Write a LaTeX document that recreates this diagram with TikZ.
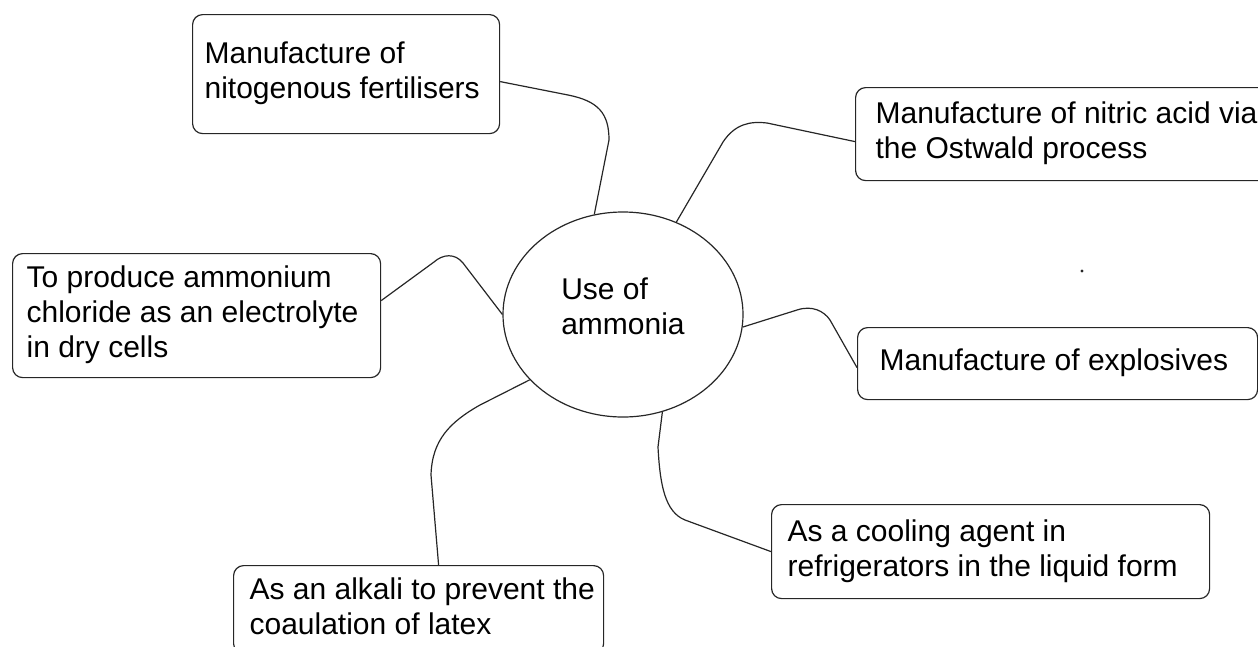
\documentclass[tikz,border=0pt]{standalone}
\usepackage{fontspec}
\setmainfont{Liberation Sans}
\usetikzlibrary{shapes.geometric}
\newcommand\boxtext[3]{\makebox[#1pt][l]{\hspace*{#2pt}\begin{tabular}{@{}l@{}}#3\end{tabular}}}
\tikzset{
  stroke/.style={draw=black!85, line width=1.2pt},
  box/.style={stroke, rounded corners=10pt, anchor=north west,
    inner sep=0pt, font=\fontsize{30}{35}\selectfont},
  hub/.style={stroke, ellipse, minimum width=240pt, minimum height=205pt,
    inner sep=0pt, align=left, font=\fontsize{30}{35}\selectfont},
  link/.style={stroke}
}
\begin{document}
\begin{tikzpicture}[x=1pt,y=-1pt]
\useasboundingbox (0,0) rectangle (1258,646);
\clip (0,0) rectangle (1258,646);

\node[hub] (e) at (623,314.5) {Use of\\ammonia\rule[-16pt]{0pt}{16pt}};

\node[box, minimum height=119pt] (fert) at (192,14)
  {\boxtext{307}{12}{Manufacture of\\nitogenous fertilisers}};
\node[box, minimum height=93pt] (nit) at (855,87)
  {\boxtext{440}{20}{Manufacture of nitric acid via\\the Ostwald process}};
\node[box, minimum height=124pt] (chl) at (12,253)
  {\boxtext{368}{14}{To produce ammonium\\chloride as an electrolyte\\in dry cells}};
\node[box, minimum height=72pt] (expl) at (857,327)
  {\boxtext{400}{22}{Manufacture of explosives}};
\node[box, minimum height=88pt] (alk) at (233,565)
  {\boxtext{370}{16}{As an alkali to prevent the\\coaulation of latex}};
\node[box, minimum height=94pt] (cool) at (771,504)
  {\boxtext{438}{16}{As a cooling agent in\\refrigerators in the liquid form}};

\draw[link] ([yshift=-7.5pt]fert.east) -- (568,95)
  .. controls (598,101) and (609,113) .. (609,140) -- (e.106);
\draw[link] (e.60) -- (723,142)
  .. controls (735,124) and (750,121) .. (767,123) -- ([yshift=-7.5pt]nit.west);
\draw[link] ([yshift=15pt]chl.east) -- (434,262)
  .. controls (443,254) and (455,253) .. (463,263) -- (e.180);
\draw[link] (e.-6) -- (797,310)
  .. controls (812,305) and (824,311) .. (830,320) -- ([yshift=-4pt]expl.west);
\draw[link] (e.215) -- (480,405)
  .. controls (450,422) and (432,440) .. (431,475) -- ([xshift=20pt]alk.north);
\draw[link] (e.-68) -- (658,447)
  .. controls (660,485) and (665,512) .. (685,520) -- (cool.west);

\fill[black!85] (1082,271) circle (1.6pt);
\end{tikzpicture}
\end{document}
